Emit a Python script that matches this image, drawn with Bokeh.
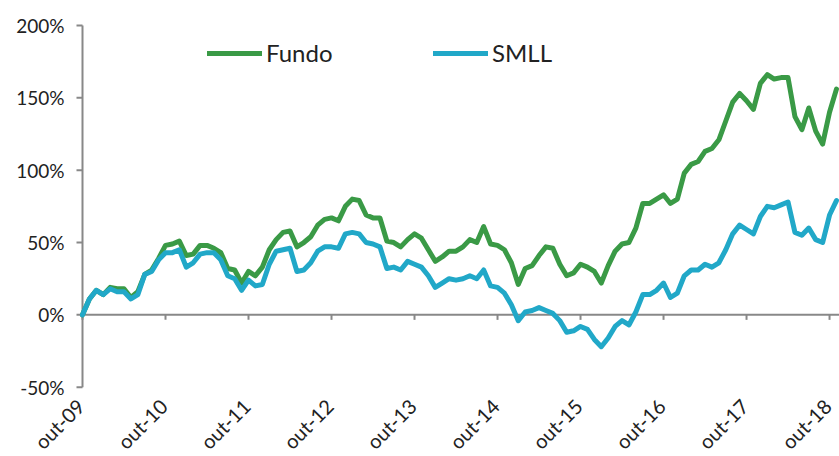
from math import pi
from bokeh.plotting import figure
from bokeh.models import Range1d, Legend, LegendItem, LabelSet, ColumnDataSource
from bokeh.core.properties import value
from bokeh.embed import file_html
from bokeh.resources import INLINE

# months since out-09
months = list(range(110))

fundo = [0, 11, 17, 14, 19, 18, 18, 12, 16, 28,
         31, 39, 48, 49, 51, 41, 42, 48, 48, 46,
         43, 32, 31, 22, 30, 27, 33, 45, 52, 57,
         58, 47, 50, 54, 62, 66, 67, 65, 75, 80,
         79, 69, 67, 67, 51, 50, 47, 52, 56, 53,
         45, 37, 40, 44, 44, 47, 52, 50, 61, 49,
         48, 45, 36, 21, 32, 34, 41, 47, 46, 35,
         27, 29, 35, 33, 30, 22, 34, 44, 49, 50,
         60, 77, 77, 80, 83, 77, 80, 98, 104, 106,
         113, 115, 121, 134, 147, 153, 148, 142, 160, 166,
         163, 164, 164, 137, 128, 143, 127, 118, 140, 156]

smll = [0, 11, 17, 14, 18, 16, 16, 11, 14, 28,
        30, 38, 43, 43, 45, 33, 36, 42, 43, 43,
        38, 27, 25, 17, 24, 20, 21, 35, 44, 45,
        46, 30, 31, 36, 44, 47, 47, 46, 56, 57,
        56, 50, 49, 47, 32, 33, 31, 37, 35, 33,
        27, 19, 22, 25, 24, 25, 27, 25, 31, 20,
        19, 15, 7, -4, 2, 3, 5, 3, 1, -4,
        -12, -11, -8, -10, -17, -22, -16, -8, -4, -7,
        2, 14, 14, 17, 22, 12, 15, 27, 31, 31,
        35, 33, 36, 45, 56, 62, 59, 56, 68, 75,
        74, 76, 78, 57, 55, 60, 52, 50, 69, 79]

x_ticks = [0, 12, 24, 36, 48, 60, 72, 84, 96, 108]
x_labels = ["out-09", "out-10", "out-11", "out-12", "out-13",
            "out-14", "out-15", "out-16", "out-17", "out-18"]
y_ticks = [-50, 0, 50, 100, 150, 200]
y_labels = ["-50%", "0%", "50%", "100%", "150%", "200%"]

GREEN = "#3A9A46"
CYAN = "#21A8C8"
AXIS = "#888888"
TXT = "#222222"
FONT = "Lato"

PX_PER_MONTH = 6.917
PX_PER_UNIT = 1.4468
X_START = -82 / PX_PER_MONTH
X_END = (839 - 82) / PX_PER_MONTH
Y_END = 200 + 25 / PX_PER_UNIT
Y_START = 200 - (456 - 25) / PX_PER_UNIT
TICK_X = 6 / PX_PER_MONTH
TICK_Y = 5 / PX_PER_UNIT
YLAB_X = -(6 + 12) / PX_PER_MONTH
XLAB_Y = -60.5

p = figure(width=839, height=456, x_range=Range1d(X_START, X_END), y_range=Range1d(Y_START, Y_END),
           output_backend="svg", toolbar_location=None,
           min_border_left=0, min_border_top=0, min_border_right=0, min_border_bottom=0)
p.outline_line_color = None
p.xgrid.visible = False
p.ygrid.visible = False
p.background_fill_color = "white"
p.xaxis.visible = False
p.yaxis.visible = False

# value axis line and ticks
p.segment(x0=[0], y0=[y_ticks[0]], x1=[0], y1=[y_ticks[-1]], line_color=AXIS, line_width=2)
p.segment(x0=[-TICK_X] * len(y_ticks), y0=y_ticks, x1=[0] * len(y_ticks), y1=y_ticks,
          line_color=AXIS, line_width=2)
# category axis line at 0 with downward ticks
p.segment(x0=[0], y0=[0], x1=[X_END], y1=[0], line_color=AXIS, line_width=2)
p.segment(x0=x_ticks, y0=[0] * len(x_ticks), x1=x_ticks, y1=[-TICK_Y] * len(x_ticks),
          line_color=AXIS, line_width=2)

ylab_src = ColumnDataSource(dict(x=[YLAB_X] * len(y_ticks), y=y_ticks, text=y_labels))
p.add_layout(LabelSet(x="x", y="y", text="text", source=ylab_src,
                      text_align="right", text_baseline="middle",
                      text_font=value(FONT), text_font_size=value("19px"),
                      text_color=TXT))

xlab_src = ColumnDataSource(dict(x=x_ticks, y=[XLAB_Y] * len(x_ticks), text=x_labels))
p.add_layout(LabelSet(x="x", y="y", text="text", source=xlab_src, angle=pi / 4,
                      x_offset=-2, text_align="right", text_baseline="middle",
                      text_font=value(FONT), text_font_size=value("20px"),
                      text_color=TXT))

r1 = p.line(months, fundo, line_color=GREEN, line_width=5, line_join="round", line_cap="round")
r2 = p.line(months, smll, line_color=CYAN, line_width=5, line_join="round", line_cap="round")

def mk_legend(label, r, loc):
    lg = Legend(items=[LegendItem(label=label, renderers=[r])], location=loc,
                glyph_width=55, glyph_height=20, label_height=20, label_standoff=4,
                padding=0, margin=0, spacing=0, border_line_color=None,
                background_fill_alpha=0, label_text_font=FONT,
                label_text_font_size="24px", label_text_color=TXT)
    p.add_layout(lg, "center")

mk_legend("Fundo", r1, (207, 389))
mk_legend("SMLL", r2, (433, 389))

open("out.html", "w").write(file_html(p, INLINE))
